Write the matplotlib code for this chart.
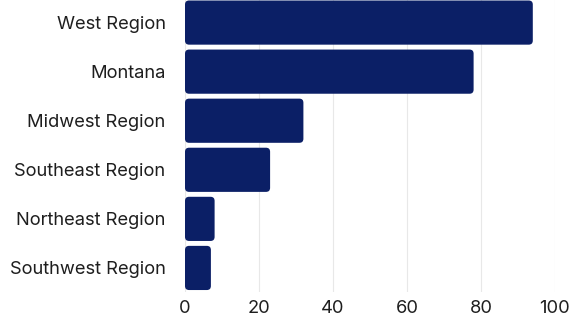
import matplotlib.pyplot as plt
from matplotlib.patches import FancyBboxPatch

regions = ['West Region', 'Montana', 'Midwest Region', 'Southeast Region',
           'Northeast Region', 'Southwest Region']
values = [94, 78, 32, 23, 8, 7]
xticks = [0, 20, 40, 60, 80, 100]

plt.rcParams['font.family'] = ['Inter', 'DejaVu Sans']

fig = plt.figure(figsize=(5.73, 3.2), dpi=100)
ax = fig.add_axes([185 / 573, 1 - 292 / 320, 370 / 573, 292 / 320])

bar_h = 0.9
color = '#0b1f66'
for i, v in enumerate(values):
    box = FancyBboxPatch((0, i - bar_h / 2), v, bar_h,
                         boxstyle='round,pad=0,rounding_size=1.1',
                         mutation_aspect=0.0755,
                         facecolor=color, edgecolor='none', zorder=3)
    ax.add_patch(box)

ax.set_xlim(0, 100)
ax.set_ylim(5.49, -0.46)
ax.set_yticks(range(len(regions)))
ax.set_yticklabels(regions)
ax.set_xticks(xticks)
ax.grid(axis='x', color='#e8e8e8', linewidth=0.8, zorder=0)
for s in ax.spines.values():
    s.set_visible(False)
ax.tick_params(axis='both', length=0, labelsize=13.2, colors='#1e1e1e')
ax.tick_params(axis='y', pad=14)
ax.tick_params(axis='x', pad=6)

fig.savefig('out.png', dpi=100)
